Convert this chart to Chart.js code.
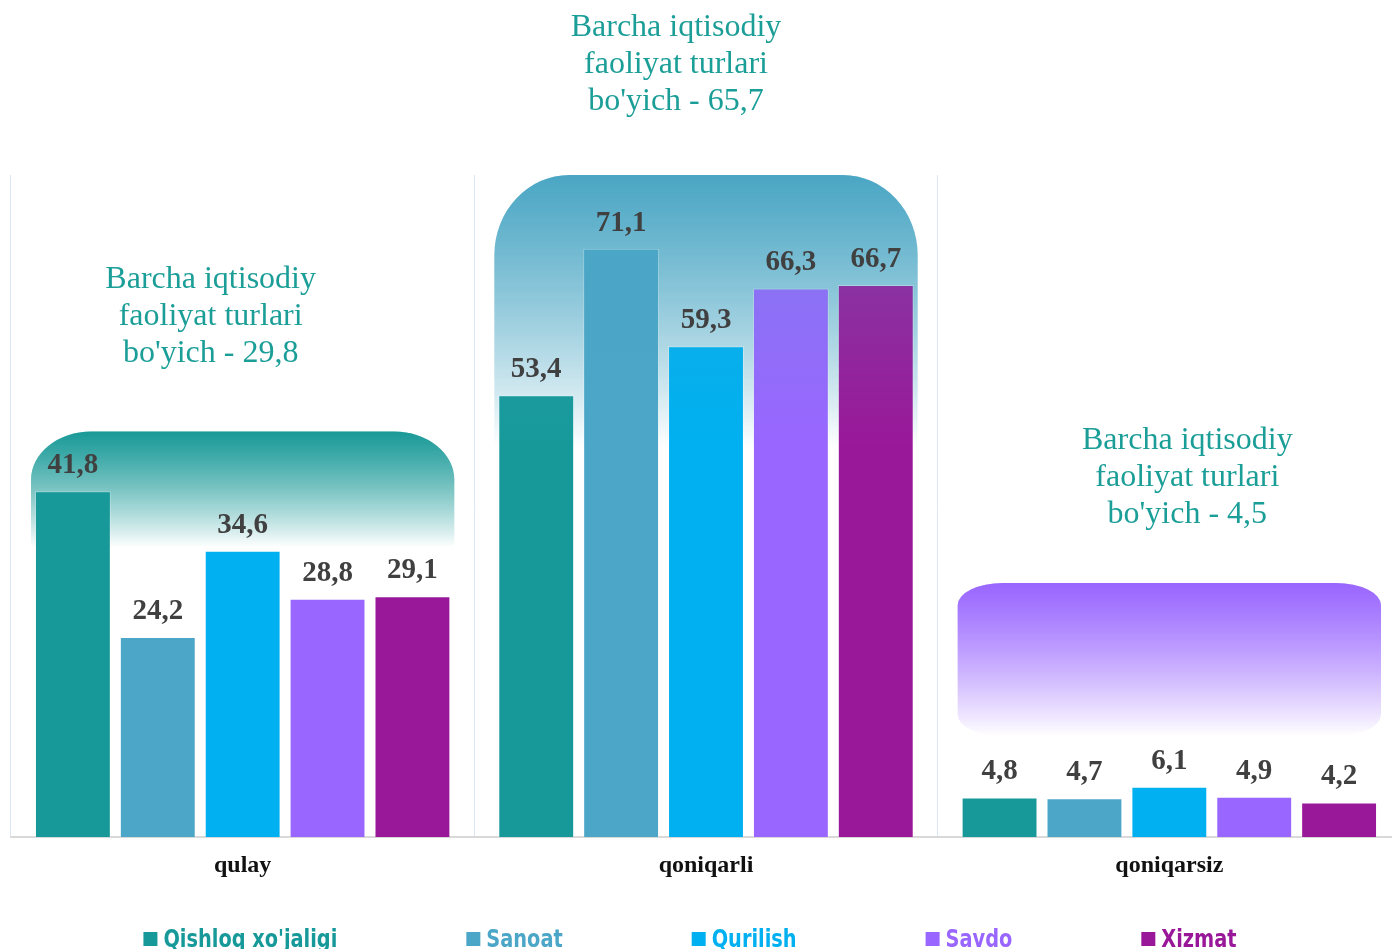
<!DOCTYPE html>
<html><head><meta charset="utf-8">
<script src="https://cdn.jsdelivr.net/npm/chart.js@4.4.0/dist/chart.umd.min.js"></script>
<style>html,body{margin:0;padding:0;overflow:hidden;background:#fff}#wrap{width:1401px;height:949px;position:relative}</style>
</head><body><div id="wrap"><canvas id="c"></canvas></div>
<script>
// ---- data ----
const categories = ['qulay', 'qoniqarli', 'qoniqarsiz'];
const seriesNames = ["Qishloq xo'jaligi", 'Sanoat', 'Qurilish', 'Savdo', 'Xizmat'];
const qishloq = [41.8, 53.4, 4.8];
const sanoat = [24.2, 71.1, 4.7];
const qurilish = [34.6, 59.3, 6.1];
const savdo = [28.8, 66.3, 4.9];
const xizmat = [29.1, 66.7, 4.2];
const overall = [29.8, 65.7, 4.5];
const noteLines = ['Barcha iqtisodiy', 'faoliyat turlari', "bo'yich - "];

// ---- styles ----
const seriesColors = ['#17999a', '#4ba6c7', '#00b0f0', '#9966ff', '#991899'];
const fmt = v => v.toFixed(1).replace('.', ',');
// decorative panels behind each group (in value units for vertical extent)
const panels = [
  { rgb: '26,154,152', top: 49.0, fade: 35.0, bottom: null, rx: 60, ry: 48, noteDx: -32, noteLift: 78 },
  { rgb: '74,166,196', top: 80.0, fade: 47.0, bottom: null, rx: 75, ry: 80, noteDx: -30, noteLift: 73 },
  { rgb: '153,102,255', top: 30.7, fade: 12.2, bottom: 12.2, rx: 45, ry: 22, noteDx: 18, noteLift: 68 }
];

function panelPath(ctx, x0, x1, y0, y1, rx, ry, roundBottom) {
  ctx.beginPath();
  ctx.moveTo(x0, y0 + ry);
  ctx.ellipse(x0 + rx, y0 + ry, rx, ry, 0, Math.PI, Math.PI * 1.5);
  ctx.lineTo(x1 - rx, y0);
  ctx.ellipse(x1 - rx, y0 + ry, rx, ry, 0, Math.PI * 1.5, Math.PI * 2);
  if (roundBottom) {
    ctx.lineTo(x1, y1 - ry);
    ctx.ellipse(x1 - rx, y1 - ry, rx, ry, 0, 0, Math.PI * 0.5);
    ctx.lineTo(x0 + rx, y1);
    ctx.ellipse(x0 + rx, y1 - ry, rx, ry, 0, Math.PI * 0.5, Math.PI);
  } else {
    ctx.lineTo(x1, y1);
    ctx.lineTo(x0, y1);
  }
  ctx.closePath();
}

function drawPanels(chart, alpha) {
  const { ctx, scales: { x, y } } = chart;
  const catW = x.width / categories.length;
  panels.forEach((p, i) => {
    const cx = x.getPixelForValue(i);
    const x0 = cx - catW / 2 + 20, x1 = cx + catW / 2 - 20;
    const y0 = y.getPixelForValue(p.top);
    const yf = y.getPixelForValue(p.fade);
    const y1 = p.bottom !== null ? y.getPixelForValue(p.bottom) : yf;
    const g = ctx.createLinearGradient(0, y0, 0, yf);
    g.addColorStop(0, `rgba(${p.rgb},${alpha})`);
    g.addColorStop(0.45, `rgba(${p.rgb},${alpha * 0.55})`);
    g.addColorStop(1, `rgba(${p.rgb},0)`);
    ctx.save();
    panelPath(ctx, x0, x1, y0, y1, p.rx, p.ry, p.bottom !== null);
    ctx.fillStyle = g;
    ctx.fill();
    ctx.restore();
  });
}

const decorPlugin = {
  id: 'decor',
  beforeDatasetsDraw(chart) { drawPanels(chart, 1); },
  afterDatasetsDraw(chart) {
    drawPanels(chart, 0.3);
    const { ctx, scales: { x, y } } = chart;
    ctx.save();
    // value labels
    ctx.font = 'bold 29px "Liberation Serif", "Times New Roman", serif';
    ctx.fillStyle = '#404040';
    ctx.textAlign = 'center';
    ctx.textBaseline = 'alphabetic';
    chart.data.datasets.forEach((ds, di) => {
      chart.getDatasetMeta(di).data.forEach((bar, i) => {
        ctx.fillText(fmt(ds.data[i]), bar.x, bar.y - 18);
      });
    });
    // group notes
    ctx.font = '32px "Liberation Serif", "Times New Roman", serif';
    ctx.fillStyle = '#1c9e98';
    ctx.textBaseline = 'middle';
    panels.forEach((p, i) => {
      const cx = x.getPixelForValue(i) + p.noteDx;
      const lastY = y.getPixelForValue(p.top) - p.noteLift;
      const lines = [noteLines[0], noteLines[1], noteLines[2] + fmt(overall[i])];
      lines.forEach((t, k) => ctx.fillText(t, cx, lastY - (2 - k) * 37));
    });
    ctx.restore();
  },
  afterDraw(chart) {
    // custom legend with coloured texts (narrow bold sans)
    const { ctx } = chart;
    ctx.save();
    ctx.font = 'bold 25px "Liberation Sans Narrow", "DejaVu Sans Condensed", "Arial Narrow", sans-serif';
    ctx.textBaseline = 'middle';
    ctx.textAlign = 'left';
    const squeeze = 0.86;
    const box = 14, gapBox = 6, gapItem = 129;
    const widths = chart.data.datasets.map(d => box + gapBox + ctx.measureText(d.label).width * squeeze);
    const total = widths.reduce((a, b) => a + b, 0) + gapItem * (widths.length - 1);
    let xx = 690 - total / 2;
    const yy = 940;
    chart.data.datasets.forEach((d, i) => {
      ctx.fillStyle = d.backgroundColor;
      ctx.fillRect(xx, yy - box / 2 - 1, box, box);
      ctx.save();
      ctx.translate(xx + box + gapBox, yy);
      ctx.scale(squeeze, 1);
      ctx.fillText(d.label, 0, 0);
      ctx.restore();
      xx += widths[i] + gapItem;
    });
    ctx.restore();
  }
};

const seriesData = [qishloq, sanoat, qurilish, savdo, xizmat];
new Chart(document.getElementById('c'), {
  type: 'bar',
  data: {
    labels: categories,
    datasets: seriesData.map((d, i) => ({
      label: seriesNames[i],
      data: d,
      backgroundColor: seriesColors[i],
      borderColor: 'rgba(255,255,255,0.35)',
      borderWidth: 1,
      categoryPercentage: 0.916,
      barPercentage: 0.894
    }))
  },
  options: {
    responsive: true,
    maintainAspectRatio: false,
    animation: false,
    events: [],
    layout: { padding: { left: 11, right: 0, top: 175, bottom: 55 } },
    plugins: { legend: { display: false }, tooltip: { enabled: false } },
    scales: {
      x: {
        grid: { display: true, offset: true, color: '#dce7f5', lineWidth: 1, drawTicks: false },
        border: { display: true, color: '#d9d9d9', width: 2 },
        ticks: { color: '#111', padding: 14, font: { family: '"Liberation Serif", "Times New Roman", serif', size: 24, weight: 'bold' } }
      },
      y: { display: false, min: 0, max: 80 }
    }
  },
  plugins: [decorPlugin]
});
</script></body></html>
